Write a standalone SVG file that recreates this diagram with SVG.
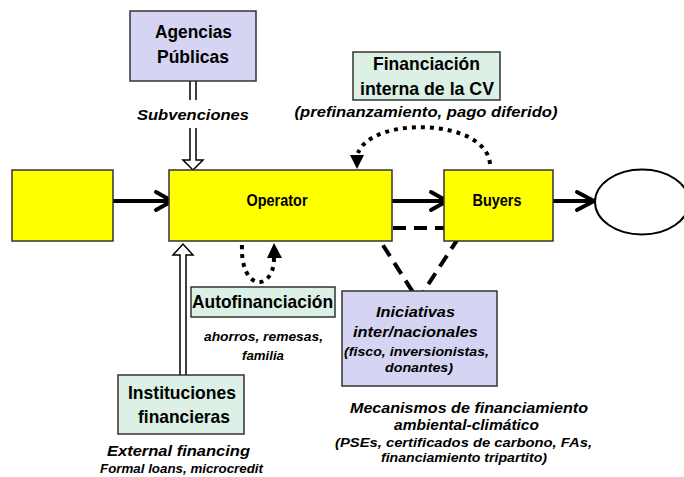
<svg xmlns="http://www.w3.org/2000/svg" width="684" height="477" viewBox="0 0 684 477">
<style>
.box{stroke:#333;stroke-width:1.5}
.yel{fill:#ffff00}
.lav{fill:#d5d5f3}
.grn{fill:#dcf0e5}
text{font-family:"Liberation Sans",Arial,sans-serif;font-weight:bold;fill:#000;text-anchor:middle}
.t{font-size:18.5px}
.m{font-size:17px}
.i{font-style:italic;font-size:14.5px}
.s{font-style:italic;font-size:13px}
.solid{fill:none;stroke:#000;stroke-width:4;stroke-linecap:round;stroke-linejoin:round}
.dot{fill:none;stroke:#000;stroke-width:4;stroke-dasharray:4 5}
.dash{fill:none;stroke:#000;stroke-width:4;stroke-dasharray:13 8}
.hollow{fill:#fff;stroke:#000;stroke-width:1.5}
</style>
<rect width="684" height="477" fill="#fff"/>
<g id="connectors">
<path class="solid" d="M113,201 H171 M156,192 L172,201 L156,210"/>
<path class="solid" d="M392,201 H446 M431,192 L447,201 L431,210"/>
<path class="solid" d="M553,201 H593 M577,192 L594,201 L577,210"/>
<path class="hollow" d="M190,81 V100 M196,81 V100"/>
<path class="hollow" d="M190,128 L190,160 L183,160 L193,170 L203,160 L196,160 L196,128"/>
<path class="hollow" d="M180,375 L180,255 L173,255 L183,244 L193,255 L186,255 L186,375"/>
<path class="dot" d="M490,164 C486,118 372,116 358,153"/>
<polygon points="350,155 364,155 357,169" fill="#000"/>
<path class="dot" d="M242,245 C240,292 274,292 274,258"/>
<polygon points="267,258 282,258 274,243" fill="#000"/>
<path class="dash" d="M372,228 L465,228 L418,300 Z"/>
</g>
<g id="source"><rect class="box yel" x="12" y="170" width="101" height="71"/></g>
<g id="operator"><rect class="box yel" x="169" y="170" width="223" height="71"/><text class="m" x="277" y="205.5" textLength="61" lengthAdjust="spacingAndGlyphs">Operator</text></g>
<g id="buyers"><rect class="box yel" x="444" y="170" width="109" height="71"/><text class="m" x="497" y="206" textLength="49" lengthAdjust="spacingAndGlyphs">Buyers</text></g>
<g id="consumer"><ellipse cx="642" cy="202" rx="47" ry="32.5" fill="#fff" stroke="#000" stroke-width="2"/></g>
<g id="agencias"><rect class="box lav" x="130" y="11" width="126" height="70"/><text class="t" x="193.5" y="38" textLength="77" lengthAdjust="spacingAndGlyphs">Agencias</text><text class="t" x="193" y="63" textLength="72" lengthAdjust="spacingAndGlyphs">Públicas</text></g>
<text class="i" x="193" y="120" textLength="112" lengthAdjust="spacingAndGlyphs">Subvenciones</text>
<g id="financiacion"><rect class="box grn" x="353" y="52" width="147" height="48"/><text class="t" x="426.5" y="70" textLength="107" lengthAdjust="spacingAndGlyphs">Financiación</text><text class="t" x="427" y="95" textLength="134" lengthAdjust="spacingAndGlyphs">interna de la CV</text></g>
<text class="i" x="426" y="117" textLength="263" lengthAdjust="spacingAndGlyphs">(prefinanzamiento, pago diferido)</text>
<g id="autofinanciacion"><rect class="box grn" x="191" y="287" width="144" height="30"/><text class="t" x="262.5" y="308" textLength="141" lengthAdjust="spacingAndGlyphs">Autofinanciación</text></g>
<text class="s" x="263.5" y="341" textLength="119" lengthAdjust="spacingAndGlyphs">ahorros, remesas,</text>
<text class="s" x="263" y="360" textLength="42" lengthAdjust="spacingAndGlyphs">familia</text>
<g id="instituciones"><rect class="box grn" x="118" y="375" width="126" height="59"/><text class="t" x="182" y="399" textLength="108" lengthAdjust="spacingAndGlyphs">Instituciones</text><text class="t" x="184" y="423" textLength="92" lengthAdjust="spacingAndGlyphs">financieras</text></g>
<text class="i" style="font-size:15.5px" x="178.5" y="456" textLength="143" lengthAdjust="spacingAndGlyphs">External financing</text>
<text class="s" x="181.5" y="473" textLength="163" lengthAdjust="spacingAndGlyphs">Formal loans, microcredit</text>
<g id="iniciativas"><rect class="box lav" x="342" y="291" width="155" height="95"/><text class="i" style="font-size:15.5px" x="415.5" y="317" textLength="79" lengthAdjust="spacingAndGlyphs">Iniciativas</text><text class="i" style="font-size:15.5px" x="415.5" y="337" textLength="125" lengthAdjust="spacingAndGlyphs">inter/nacionales</text><text class="s" x="416.5" y="356" textLength="145" lengthAdjust="spacingAndGlyphs">(fisco, inversionistas,</text><text class="s" x="419" y="372" textLength="68" lengthAdjust="spacingAndGlyphs">donantes)</text></g>
<text class="i" style="font-size:15.5px" x="469" y="413" textLength="238" lengthAdjust="spacingAndGlyphs">Mecanismos de financiamiento</text>
<text class="i" style="font-size:15.5px" x="466.5" y="430" textLength="145" lengthAdjust="spacingAndGlyphs">ambiental-climático</text>
<text class="s" x="463.5" y="447" textLength="257" lengthAdjust="spacingAndGlyphs">(PSEs, certificados de carbono, FAs,</text>
<text class="s" x="464" y="462" textLength="166" lengthAdjust="spacingAndGlyphs">financiamiento tripartito)</text>
</svg>
